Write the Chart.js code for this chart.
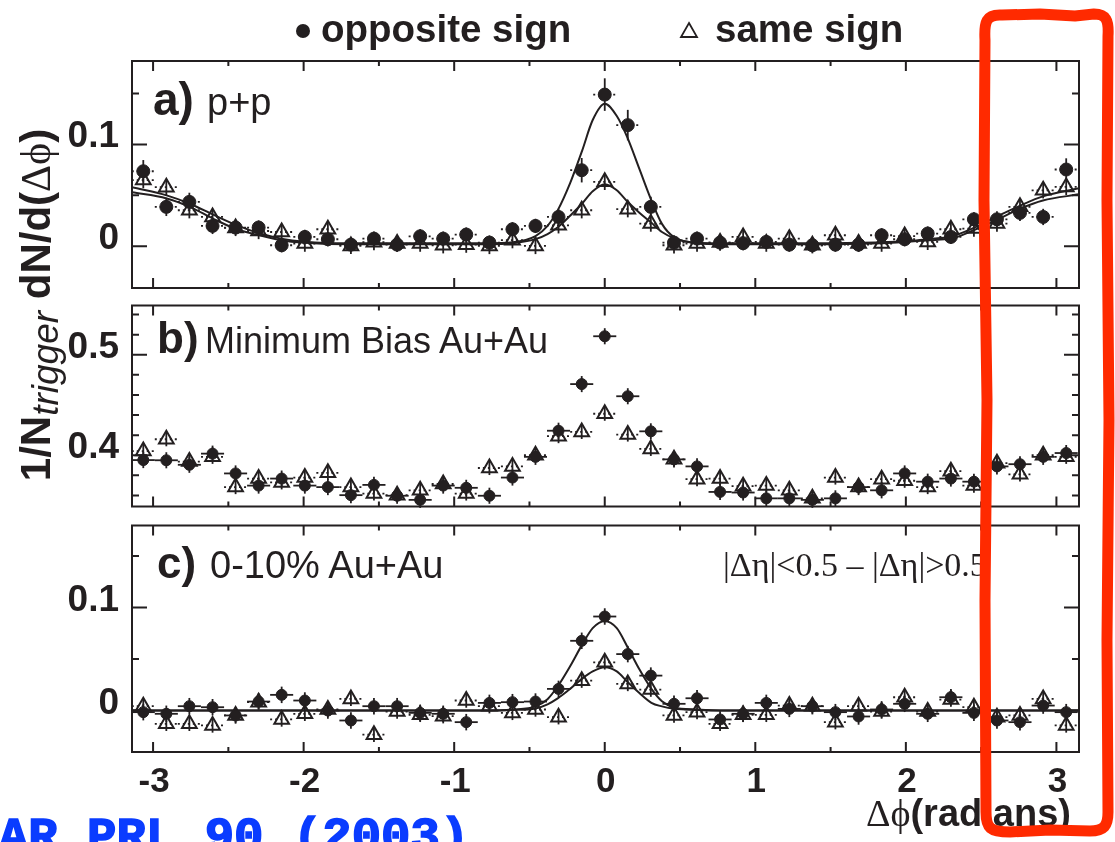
<!DOCTYPE html>
<html lang="en">
<head>
<meta charset="UTF-8">
<title>Azimuthal correlations, opposite vs same sign</title>
<script src="https://cdn.jsdelivr.net/npm/chart.js"></script>
<style>
  html, body { margin: 0; padding: 0; background: #fff; }
  .page { position: relative; width: 1115px; height: 842px; overflow: hidden; }
  canvas { position: absolute; left: 0; }
  #panelA { top: 50px; }
  #panelB { top: 295px; }
  #panelC { top: 515px; }
  #overlay { position: absolute; left: 0; top: 0; pointer-events: none; }
</style>
</head>
<body>
<div class="page">
  <canvas id="panelA" width="1115" height="250"></canvas>
  <canvas id="panelB" width="1115" height="222"></canvas>
  <canvas id="panelC" width="1115" height="287"></canvas>

  <svg id="overlay" width="1115" height="842" font-family="'Liberation Sans', Arial, Helvetica, sans-serif" fill="#231f20">
    <!-- legend -->
    <circle cx="303" cy="31" r="7"/>
    <text x="321" y="42" font-weight="bold" font-size="38.5">opposite sign</text>
    <polygon points="689,23 697,37 681,37" fill="none" stroke="#231f20" stroke-width="1.8"/>
    <text x="715" y="42" font-weight="bold" font-size="38.5">same sign</text>

    <!-- y axis title -->
    <text transform="translate(50,305) rotate(-90)" text-anchor="middle" font-size="42"><tspan font-weight="bold">1/N</tspan><tspan font-style="italic" font-size="37" dy="8">trigger</tspan><tspan font-weight="bold" dy="-8"> dN/d(</tspan><tspan font-family="'Liberation Serif', 'Times New Roman', serif">Δϕ</tspan><tspan font-weight="bold">)</tspan></text>

    <!-- panel captions -->
    <text x="153" y="115" font-weight="bold" font-size="46">a)</text>
    <text x="207" y="115" font-size="38">p+p</text>
    <text x="157" y="353" font-weight="bold" font-size="44">b)</text>
    <text x="205" y="353" font-size="36">Minimum Bias Au+Au</text>
    <text x="157" y="578" font-weight="bold" font-size="44">c)</text>
    <text x="210" y="578" font-size="38">0-10% Au+Au</text>
    <text x="723" y="576" font-family="'Liberation Serif', 'Times New Roman', serif" font-size="34">|Δη|&lt;0.5 – |Δη|&gt;0.5</text>

    <!-- x axis title -->
    <text x="866" y="826" font-size="38"><tspan font-family="'Liberation Serif', 'Times New Roman', serif">Δϕ</tspan><tspan font-weight="bold">(radians)</tspan></text>

    <!-- reference line -->
    <text x="-60" y="851" font-family="'Liberation Mono', 'Courier New', monospace" font-weight="bold" font-size="49" fill="#0a3cff" stroke="#0a3cff" stroke-width="1.6">STAR PRL 90 (2003)</text>

    <!-- marker box -->
    <path d="M 985 40 C 984 22, 986 14, 1002 15 L 1040 14 L 1075 16 L 1094 14 C 1106 14, 1109 20, 1108 36 L 1107 200 L 1109 420 L 1107 640 L 1108 812 C 1108 826, 1104 831, 1090 831 L 1050 830 L 1010 832 C 990 832, 986 828, 986 812 L 985 600 L 987 400 L 984 200 Z"
          fill="none" stroke="#ff2a00" stroke-width="11" stroke-linejoin="round" stroke-linecap="round"/>
  </svg>
</div>

<script>
const ink = '#231f20';

// bin centres in delta-phi (41 bins over 2 pi)
const phi = [-3.065, -2.912, -2.759, -2.605, -2.452, -2.299, -2.146, -1.992, -1.839, -1.686,
             -1.533, -1.379, -1.226, -1.073, -0.920, -0.766, -0.613, -0.460, -0.307, -0.153,
              0.000,  0.153,  0.306,  0.460,  0.613,  0.766,  0.919,  1.073,  1.226,  1.379,
              1.532,  1.686,  1.839,  1.992,  2.145,  2.299,  2.452,  2.605,  2.758,  2.912,  3.065];
const halfBin = 0.0766;
const phiMin = -3.14, phiMax = 3.15;

// a) p+p
const oppA = [0.0737, 0.0387, 0.0436, 0.020, 0.0184, 0.0184, 0.001, 0.0092, 0.0069, 0.0016,
              0.0075, 0.0016, 0.0098, 0.0075, 0.0115, 0.0036, 0.0167, 0.020, 0.0288, 0.0747,
              0.149, 0.119, 0.0387, 0.0036, 0.0075, 0.0036, 0.003, 0.0043, 0.0016, 0.001,
              0.0016, 0.0016, 0.0108, 0.0069, 0.0125, 0.0092, 0.0265, 0.0265, 0.0328, 0.0288, 0.0754];
const sameA = [0.065, 0.058, 0.0354, 0.0288, 0.018, 0.015, 0.014, 0.0026, 0.0167, 0.0003,
               0.004, 0.0026, 0.0026, 0.001, 0.0016, 0.0003, 0.006, 0.0003, 0.0206, 0.0354,
               0.0633, 0.0364, 0.0223, 0.001, 0.0026, 0.0036, 0.0092, 0.0026, 0.0075, 0.001,
               0.0108, 0.0026, 0.0026, 0.010, 0.0043, 0.0167, 0.0174, 0.0223, 0.0387, 0.055, 0.0583];
const errOppA = [0.011, 0.009, 0.009, 0.008, 0.007, 0.007, 0.007, 0.007, 0.007, 0.007,
                 0.007, 0.007, 0.007, 0.007, 0.007, 0.007, 0.007, 0.007, 0.008, 0.012,
                 0.016, 0.015, 0.010, 0.007, 0.007, 0.007, 0.007, 0.007, 0.007, 0.007,
                 0.007, 0.007, 0.007, 0.007, 0.007, 0.007, 0.007, 0.008, 0.008, 0.008, 0.011];
const errSameA = 0.008;

const fitPhiA = [-3.14, -2.91, -2.76, -2.60, -2.45, -2.30, -2.15, -1.99, -1.7, -1.2, -0.8, -0.61,
                 -0.46, -0.38, -0.31, -0.23, -0.15, -0.08, 0, 0.08, 0.15, 0.23, 0.31, 0.38, 0.46,
                 0.61, 0.8, 1.2, 1.7, 2.0, 2.15, 2.30, 2.45, 2.60, 2.76, 2.91, 3.15];
const fitOppA = [0.058, 0.050, 0.042, 0.031, 0.021, 0.013, 0.0075, 0.0045, 0.003, 0.003, 0.003, 0.004,
                 0.010, 0.020, 0.036, 0.062, 0.094, 0.124, 0.140, 0.128, 0.107, 0.076, 0.045, 0.022, 0.009,
                 0.0035, 0.003, 0.003, 0.0035, 0.005, 0.007, 0.0095, 0.018, 0.029, 0.040, 0.049, 0.057];
const fitSameA = [0.053, 0.047, 0.039, 0.027, 0.017, 0.011, 0.006, 0.0035, 0.002, 0.002, 0.002, 0.003,
                  0.007, 0.012, 0.019, 0.030, 0.042, 0.054, 0.061, 0.055, 0.044, 0.033, 0.023, 0.014, 0.008,
                  0.003, 0.002, 0.002, 0.0025, 0.0043, 0.006, 0.0075, 0.0157, 0.0256, 0.037, 0.045, 0.051];

// b) minimum bias Au+Au
const oppB = [0.3952, 0.395, 0.3905, 0.4016, 0.3819, 0.3698, 0.3768, 0.3698, 0.3683, 0.3603,
              0.3705, 0.3597, 0.3556, 0.3698, 0.3676, 0.3597, 0.3778, 0.3984, 0.4244, 0.4708,
              0.5184, 0.4587, 0.4238, 0.3959, 0.3889, 0.3635, 0.3629, 0.3571, 0.3571, 0.3556,
              0.3571, 0.3683, 0.3651, 0.3819, 0.3737, 0.3768, 0.3737, 0.3889, 0.3911, 0.3984, 0.4022];
const sameB = [0.4041, 0.4159, 0.3937, 0.3984, 0.3683, 0.3768, 0.373, 0.3778, 0.3825, 0.3683,
               0.3619, 0.3603, 0.3651, 0.3714, 0.3619, 0.3873, 0.3889, 0.4, 0.419, 0.4232,
               0.4413, 0.4206, 0.4063, 0.3959, 0.3762, 0.3768, 0.3692, 0.3698, 0.3651, 0.3571,
               0.3778, 0.3683, 0.3762, 0.3746, 0.3683, 0.3841, 0.3698, 0.3921, 0.381, 0.4, 0.3984];
const errOppB = 0.008, errSameB = 0.007;

// c) 0-10% Au+Au, near-side minus far-eta
const oppC = [-0.0016, -0.0032, 0.0042, 0.0032, -0.0048, 0.0087, 0.0152, 0.0097, 0, -0.0097,
              0.0042, 0.0042, -0.0023, -0.0032, -0.0113, 0.0074, 0.0081, 0.0087, 0.021, 0.0677,
              0.0913, 0.0548, 0.0339, 0.0065, 0.0119, -0.0087, -0.0032, 0.0074, 0.0016, 0.0042,
              -0.0016, -0.0058, 0.001, 0.0065, -0.0032, 0.0129, -0.0023, -0.0097, -0.0113, 0.0048, -0.0016];
const sameC = [0.0042, -0.0129, -0.0129, -0.0145, -0.0048, 0.0081, -0.0087, -0.0032, 0.001, 0.0113,
               -0.0235, -0.001, -0.0042, -0.0055, 0.0097, 0.0042, -0.0023, 0.001, -0.0065, 0.029,
               0.0468, 0.0258, 0.0203, -0.0048, -0.0016, -0.0129, -0.0042, -0.0042, 0.0048, 0.0042,
               -0.0113, 0.0042, -0.001, 0.0129, -0.001, 0.0106, 0.0032, -0.0065, -0.0048, 0.0113, -0.0145];
const errOppC = 0.008, errSameC = 0.007;

const fitPhiC = [-3.14, -1.5, -0.8, -0.61, -0.46, -0.38, -0.31, -0.23, -0.15, -0.08, 0,
                 0.08, 0.15, 0.23, 0.31, 0.38, 0.46, 0.61, 0.8, 1.5, 3.15];
const fitOppC = [0, 0, 0, 0.001, 0.004, 0.011, 0.024, 0.043, 0.064, 0.080, 0.087,
                 0.080, 0.062, 0.040, 0.021, 0.009, 0.003, 0.001, 0, 0, 0];
const fitSameC = [0, 0, 0, 0.0005, 0.002, 0.006, 0.012, 0.021, 0.031, 0.038, 0.042,
                  0.038, 0.028, 0.017, 0.0075, 0.004, 0.0016, 0.0005, 0, 0, 0];

// axis ticks
const xMajor = [-3, -2, -1, 0, 1, 2, 3];
const xMinor = [-2.5, -1.5, -0.5, 0.5, 1.5, 2.5];
const xLabels = ['-3', '-2', '-1', '0', '1', '2', '3'];

const axisA = { yMajor: [0, 0.1], yMinor: [0.05, 0.15], yLabels: ['0', '0.1'] };
const axisB = { yMajor: [0.4, 0.5], yMinor: [0.36, 0.38, 0.42, 0.44, 0.46, 0.48, 0.52, 0.54], yLabels: ['0.4', '0.5'] };
const axisC = { yMajor: [0, 0.1], yMinor: [0.05, 0.15], yLabels: ['0', '0.1'], xLabels: true };

function circles(ys, err, radius, hDash) {
  return {
    data: phi.map((x, i) => ({ x, y: ys[i] })),
    pointStyle: 'circle', pointRadius: radius, borderWidth: 1,
    backgroundColor: ink, borderColor: ink,
    showLine: false, clip: false, err, hDash
  };
}

function triangles(ys, err, hDash) {
  return {
    data: phi.map((x, i) => ({ x, y: ys[i] })),
    pointStyle: 'triangle', pointRadius: 8.5, borderWidth: 2,
    backgroundColor: 'rgba(0,0,0,0)', borderColor: ink,
    showLine: false, clip: false, err, hDash
  };
}

function fitLine(xs, ys) {
  return {
    data: xs.map((x, i) => ({ x, y: ys[i] })),
    showLine: true, pointRadius: 0, borderWidth: 2, borderColor: ink,
    cubicInterpolationMode: 'monotone', fill: false
  };
}

// frame, inward ticks, tick labels and error bars
const panelDecor = {
  id: 'panelDecor',
  beforeDatasetsDraw(chart) {
    const { ctx, scales: { x, y } } = chart;
    ctx.save();
    ctx.strokeStyle = ink;
    ctx.lineWidth = 1.8;
    chart.data.datasets.forEach(ds => {
      if (ds.err === undefined) return;
      ds.data.forEach((p, i) => {
        const e = Array.isArray(ds.err) ? ds.err[i] : ds.err;
        const px = x.getPixelForValue(p.x), py = y.getPixelForValue(p.y);
        ctx.setLineDash([]);
        ctx.beginPath();
        ctx.moveTo(px, y.getPixelForValue(p.y - e));
        ctx.lineTo(px, y.getPixelForValue(p.y + e));
        ctx.stroke();
        ctx.setLineDash(ds.hDash);
        ctx.beginPath();
        ctx.moveTo(x.getPixelForValue(p.x - halfBin), py);
        ctx.lineTo(x.getPixelForValue(p.x + halfBin), py);
        ctx.stroke();
      });
    });
    ctx.restore();
  },
  afterDraw(chart, args, o) {
    const { ctx, chartArea: a, scales: { x, y } } = chart;
    ctx.save();
    ctx.strokeStyle = ink;
    ctx.lineWidth = 2;
    ctx.setLineDash([]);
    ctx.strokeRect(a.left, a.top, a.right - a.left, a.bottom - a.top);

    ctx.beginPath();
    const xTick = (v, len) => {
      const px = x.getPixelForValue(v);
      ctx.moveTo(px, a.bottom); ctx.lineTo(px, a.bottom - len);
      ctx.moveTo(px, a.top); ctx.lineTo(px, a.top + len);
    };
    const yTick = (v, len) => {
      const py = y.getPixelForValue(v);
      ctx.moveTo(a.left, py); ctx.lineTo(a.left + len, py);
      ctx.moveTo(a.right, py); ctx.lineTo(a.right - len, py);
    };
    xMajor.forEach(v => xTick(v, 10));
    xMinor.forEach(v => xTick(v, 5));
    o.yMajor.forEach(v => yTick(v, 15));
    o.yMinor.forEach(v => yTick(v, 7));
    ctx.stroke();

    ctx.fillStyle = ink;
    ctx.font = 'bold 37px "Liberation Sans", Arial, sans-serif';
    ctx.textAlign = 'right';
    ctx.textBaseline = 'alphabetic';
    o.yMajor.forEach((v, i) => ctx.fillText(o.yLabels[i], 119, y.getPixelForValue(v) + 3));

    if (o.xLabels) {
      ctx.font = 'bold 35px "Liberation Sans", Arial, sans-serif';
      ctx.textAlign = 'center';
      xMajor.forEach((v, i) => ctx.fillText(xLabels[i], x.getPixelForValue(v) + 1, a.bottom + 40));
    }
    ctx.restore();
  }
};

function makePanel(canvasId, pad, yMin, yMax, datasets, axis) {
  return new Chart(document.getElementById(canvasId), {
    type: 'scatter',
    data: { datasets },
    options: {
      responsive: false,
      animation: false,
      events: [],
      layout: { padding: pad },
      scales: {
        x: { type: 'linear', min: phiMin, max: phiMax, display: false },
        y: { type: 'linear', min: yMin, max: yMax, display: false }
      },
      plugins: {
        legend: { display: false },
        tooltip: { enabled: false },
        panelDecor: axis
      }
    },
    plugins: [panelDecor]
  });
}

const dotted = [2, 3];
const solid = [];

makePanel('panelA', { left: 132, right: 36, top: 11, bottom: 12 }, -0.041, 0.182, [
  circles(oppA, errOppA, 6.5, dotted),
  triangles(sameA, errSameA, dotted),
  fitLine(fitPhiA, fitOppA),
  fitLine(fitPhiA, fitSameA)
], axisA);

makePanel('panelB', { left: 132, right: 36, top: 7, bottom: 5 }, 0.349, 0.549, [
  circles(oppB, errOppB, 5.5, solid),
  triangles(sameB, errSameB, dotted)
], axisB);

makePanel('panelC', { left: 132, right: 36, top: 9, bottom: 50 }, -0.0403, 0.1797, [
  circles(oppC, errOppC, 5.5, solid),
  triangles(sameC, errSameC, dotted),
  fitLine(fitPhiC, fitOppC),
  fitLine(fitPhiC, fitSameC)
], axisC);
</script>
</body>
</html>
